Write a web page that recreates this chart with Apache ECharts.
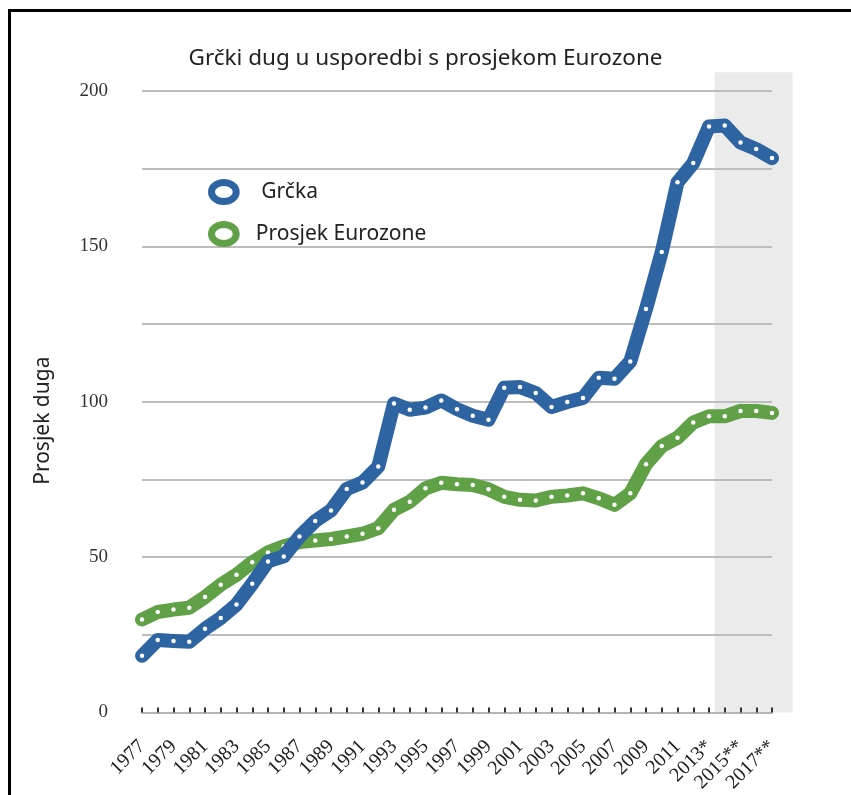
<!DOCTYPE html>
<html><head><meta charset="utf-8">
<script src="https://cdn.jsdelivr.net/npm/echarts@6/dist/echarts.min.js"></script>
<style>
html,body{margin:0;padding:0;background:#fff;overflow:hidden}
#c{width:851px;height:795px}
#f{position:absolute;left:8px;top:9px;width:900px;height:900px;border-left:3px solid #000;border-top:3px solid #000;pointer-events:none}
</style>
</head><body><div id="c"></div><div id="f"></div>
<script>
const yearLabels = ['1977','1978','1979','1980','1981','1982','1983','1984','1985','1986','1987','1988','1989','1990','1991','1992','1993','1994','1995','1996','1997','1998','1999','2000','2001','2002','2003','2004','2005','2006','2007','2008','2009','2010','2011','2012','2013*','2014','2015**','2016','2017**'];
const greece = [18.2,23.3,23.0,22.7,26.9,30.4,34.7,41.4,48.6,50.2,56.6,61.6,65.0,71.9,74.0,79.1,
  99.4,97.4,98.1,100.4,97.6,95.5,94.2,104.5,104.7,102.8,98.3,99.9,101.2,107.7,107.4,112.9,
  129.8,148.2,170.6,176.8,188.6,188.9,183.4,181.3,178.4];
const eurozone = [29.9,32.3,33.1,33.7,37.1,41.1,44.3,48.3,51.5,53.5,54.8,55.3,55.8,56.6,57.5,59.3,
  65.2,67.8,72.1,73.9,73.4,73.2,71.8,69.4,68.4,68.2,69.4,69.8,70.5,68.9,66.8,70.5,
  79.9,85.7,88.4,93.3,95.3,95.3,97.0,97.0,96.4];
const yLabelValues = [0,50,100,150,200];
const titleText = 'Grčki dug u usporedbi s prosjekom Eurozone';
const yName = 'Prosjek duga';
const nameGreece = 'Grčka';
const nameEuro = 'Prosjek Eurozone';

const BLUE = '#2e64a2', GREEN = '#60a147';
const chart = echarts.init(document.getElementById('c'), null, {renderer:'canvas'});
const sans = 'Noto Sans';
const serif = 'Liberation Serif';
const ring = 'path://M0,10 A13,10 0 1,1 26,10 A13,10 0 1,1 0,10 Z';
chart.setOption({
  animation:false,
  backgroundColor:'#fff',
  title:{text:titleText,left:'center',top:42,textStyle:{fontFamily:sans,fontSize:22.5,fontWeight:'normal',color:'#222'}},
  legend:{
    orient:'vertical',left:203,top:174,itemWidth:26,itemHeight:19,itemGap:16,
    textStyle:{fontFamily:sans,fontSize:21,color:'#222',padding:[0,0,0,14]},
    formatter:n=> n===nameGreece ? ' '+n : n,
    data:[
      {name:nameGreece,icon:ring,itemStyle:{color:'#fff',borderColor:BLUE,borderWidth:7}},
      {name:nameEuro,icon:ring,itemStyle:{color:'#fff',borderColor:GREEN,borderWidth:7}}
    ]
  },
  grid:{left:142,right:79,top:91,bottom:80,containLabel:false},
  xAxis:{
    type:'category',data:yearLabels,boundaryGap:false,
    axisLine:{lineStyle:{color:'#b5b5b5',width:2}},
    axisTick:{show:true,inside:true,length:5,interval:0,lineStyle:{color:'#333',width:2}},
    axisLabel:{interval:1,rotate:45,margin:31,fontFamily:serif,fontSize:20,color:'#222'},
    splitLine:{show:false}
  },
  yAxis:{
    type:'value',min:0,max:200,interval:25,
    name:yName,nameLocation:'middle',nameGap:88,
    nameTextStyle:{fontFamily:sans,fontSize:21,color:'#222',padding:[0,38,0,0]},
    axisLine:{show:false},axisTick:{show:false},
    axisLabel:{margin:34,fontFamily:serif,fontSize:19,color:'#333',
      formatter:v=> yLabelValues.includes(v) ? String(v) : ''},
    splitLine:{lineStyle:{color:'#bdbdbd',width:2}}
  },
  series:[
    {name:nameEuro,type:'line',data:eurozone,z:2,symbol:'circle',symbolSize:4.5,showSymbol:true,
     itemStyle:{color:'#fff',borderWidth:0},lineStyle:{color:GREEN,width:14,cap:'round',join:'round'},
     emphasis:{disabled:true}},
    {name:nameGreece,type:'line',data:greece,z:3,symbol:'circle',symbolSize:4.5,showSymbol:true,
     itemStyle:{color:'#fff',borderWidth:0},lineStyle:{color:BLUE,width:14,cap:'round',join:'round'},
     emphasis:{disabled:true}}
  ]
});
// shaded forecast band, positioned through the axes
const px = c => chart.convertToPixel({xAxisIndex:0}, c);
const py = v => chart.convertToPixel({yAxisIndex:0}, v);
const step = px(yearLabels[1]) - px(yearLabels[0]);
const x0 = px('2013*') + step*0.35;
const x1 = px(yearLabels[yearLabels.length-1]) + step*1.3;
const yT = py(206), yB = py(0);
chart.setOption({graphic:[{type:'rect',z:-10,silent:true,shape:{x:x0,y:yT,width:x1-x0,height:yB-yT},style:{fill:'#ebebeb'}}]});
</script>
</body></html>
